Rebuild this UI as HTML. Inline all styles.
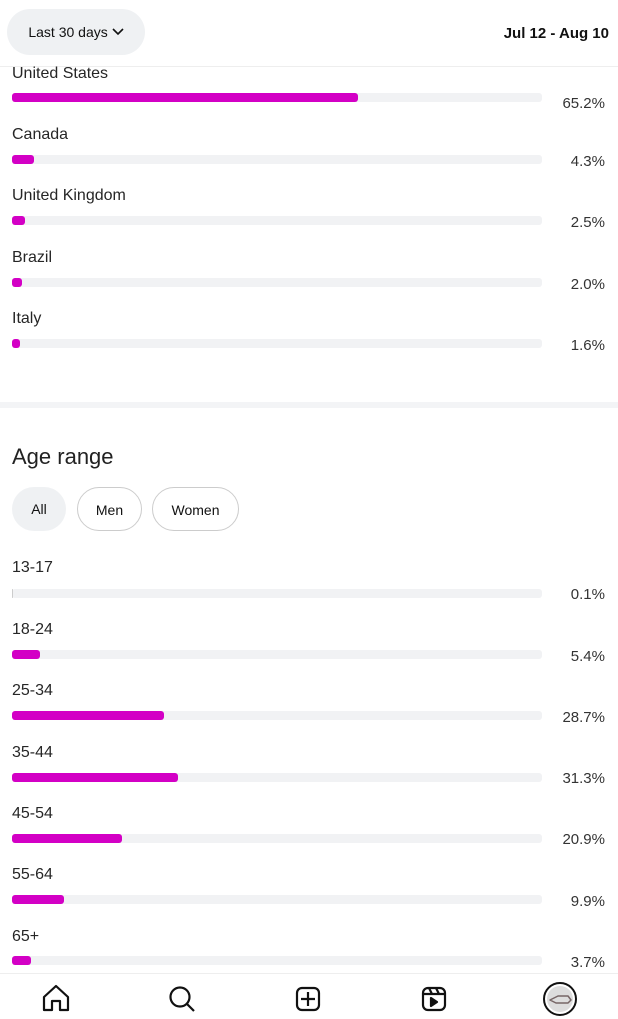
<!DOCTYPE html>
<html><head><meta charset="utf-8"><style>
body{margin:0;width:618px;height:1019px;background:#fff;font-family:"Liberation Sans",sans-serif;color:#262626;position:relative;overflow:hidden}
.a{position:absolute}
.lbl{position:absolute;left:12px;font-size:16px;line-height:20px}
.trk{position:absolute;left:12px;width:530px;height:9px;background:#f1f2f4;border-radius:3px}
.bar{position:absolute;left:0;top:0;height:9px;background:#d300c5;border-radius:3px}
.pct{position:absolute;right:13px;font-size:15px;line-height:20px;color:#333}
.btn{position:absolute;top:487px;height:44px;border-radius:22px;box-sizing:border-box;font-size:14px;line-height:44px;text-align:center;color:#111}
</style></head><body>
<div class="a" style="left:7px;top:9px;width:138px;height:46px;border-radius:23px;background:#eff1f3;font-size:14px;line-height:46px;text-align:center;color:#111">Last 30 days <svg width="12" height="8" viewBox="0 0 12 8" style="vertical-align:1px"><path d="M1 1l5 5 5-5" fill="none" stroke="#111" stroke-width="1.6"/></svg></div>
<div class="a" style="right:9px;top:25px;font-size:15px;font-weight:bold;color:#111">Jul 12 - Aug 10</div>
<div class="a" style="left:0;top:66px;width:618px;height:1px;background:#eee"></div>

<div class="lbl" style="top:64px">United States</div><div class="trk" style="top:93px"><div class="bar" style="width:346px"></div></div><div class="pct" style="top:94px">65.2%</div>
<div class="lbl" style="top:125px">Canada</div><div class="trk" style="top:155px"><div class="bar" style="width:22px"></div></div><div class="pct" style="top:152px">4.3%</div>
<div class="lbl" style="top:186px">United Kingdom</div><div class="trk" style="top:216px"><div class="bar" style="width:13px"></div></div><div class="pct" style="top:213px">2.5%</div>
<div class="lbl" style="top:248px">Brazil</div><div class="trk" style="top:278px"><div class="bar" style="width:10px"></div></div><div class="pct" style="top:275px">2.0%</div>
<div class="lbl" style="top:309px">Italy</div><div class="trk" style="top:339px"><div class="bar" style="width:8px"></div></div><div class="pct" style="top:336px">1.6%</div>

<div class="a" style="left:0;top:402px;width:618px;height:6px;background:#f3f4f6"></div>
<div class="a" style="left:12px;top:444px;font-size:22px;color:#222">Age range</div>
<div class="btn" style="left:12px;width:54px;background:#eff1f3">All</div>
<div class="btn" style="left:77px;width:65px;border:1px solid #ccc">Men</div>
<div class="btn" style="left:152px;width:87px;border:1px solid #ccc">Women</div>

<div class="lbl" style="top:558px">13-17</div><div class="trk" style="top:589px"><div class="bar" style="width:1px;background:#ccc"></div></div><div class="pct" style="top:585px">0.1%</div>
<div class="lbl" style="top:620px">18-24</div><div class="trk" style="top:650px"><div class="bar" style="width:28px"></div></div><div class="pct" style="top:647px">5.4%</div>
<div class="lbl" style="top:681px">25-34</div><div class="trk" style="top:711px"><div class="bar" style="width:152px"></div></div><div class="pct" style="top:708px">28.7%</div>
<div class="lbl" style="top:743px">35-44</div><div class="trk" style="top:773px"><div class="bar" style="width:166px"></div></div><div class="pct" style="top:769px">31.3%</div>
<div class="lbl" style="top:804px">45-54</div><div class="trk" style="top:834px"><div class="bar" style="width:110px"></div></div><div class="pct" style="top:830px">20.9%</div>
<div class="lbl" style="top:865px">55-64</div><div class="trk" style="top:895px"><div class="bar" style="width:52px"></div></div><div class="pct" style="top:892px">9.9%</div>
<div class="lbl" style="top:927px">65+</div><div class="trk" style="top:956px"><div class="bar" style="width:19px"></div></div><div class="pct" style="top:953px">3.7%</div>

<div class="a" style="left:0;top:973px;width:618px;height:1px;background:#eee"></div>
<svg class="a" style="left:0;top:980px" width="618" height="39" viewBox="0 980 618 39" fill="none" stroke="#111" stroke-width="2.2" stroke-linejoin="round">
<path d="M44 1010v-13l12-11 12 11v13h-8v-9h-8v9z"/>
<circle cx="180" cy="997" r="9.5"/><path d="M187 1004l7 7"/>
<rect x="297" y="988" width="22" height="22" rx="5"/><path d="M308 992v14M301 999h14"/>
<rect x="423" y="988" width="22" height="22" rx="5"/><path d="M423 994h22M429 988l3 6M436 988l3 6"/><path d="M431 998v8l6-4z" fill="#111"/>
<circle cx="560" cy="999" r="16" stroke-width="2"/><circle cx="560" cy="999" r="13" fill="#ddd" stroke="none"/><path d="M550 1000l8-4h10l3 4-3 3h-12z" stroke="#766" stroke-width="1.5"/>
</svg>
</body></html>
